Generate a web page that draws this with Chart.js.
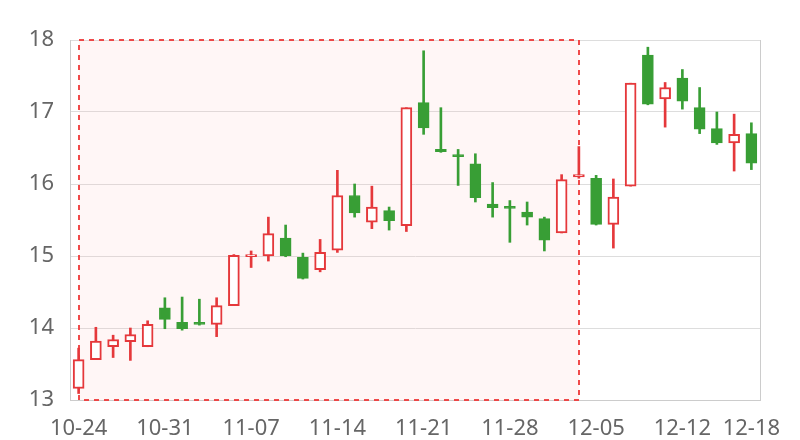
<!DOCTYPE html>
<html><head><meta charset="utf-8">
<script src="https://cdn.jsdelivr.net/npm/chart.js@4.4.0/dist/chart.umd.min.js"></script>
<style>html,body{margin:0;padding:0;background:#fff;}#wrap{width:800px;height:440px;}</style>
</head><body><div id="wrap"><canvas id="c" width="800" height="440"></canvas></div>
<script>
const dates = ['10-24','10-25','10-26','10-27','10-28','10-31','11-01','11-02','11-03','11-04',
  '11-07','11-08','11-09','11-10','11-11','11-14','11-15','11-16','11-17','11-18',
  '11-21','11-22','11-23','11-24','11-25','11-28','11-29','11-30','12-01','12-02',
  '12-05','12-06','12-07','12-08','12-09','12-12','12-13','12-14','12-15','12-18'];
const opens  = [13.16,13.56,13.74,13.81,13.74,14.28,14.08,14.08,14.05,14.31,
  14.99,15.00,15.25,14.98,14.81,15.08,15.84,15.47,15.63,15.42,
  17.13,16.48,16.41,16.28,15.72,15.69,15.61,15.52,15.32,16.10,
  16.08,15.44,15.97,17.79,17.18,17.47,17.06,16.77,16.57,16.70];
const closes = [13.56,13.82,13.84,13.91,14.05,14.12,13.99,14.05,14.31,15.01,
  15.02,15.31,15.00,14.69,15.05,15.84,15.60,15.68,15.49,17.06,
  16.78,16.45,16.38,15.81,15.67,15.66,15.54,15.22,16.06,16.13,
  15.44,15.82,17.40,17.11,17.34,17.15,16.76,16.57,16.69,16.29];
const lows   = [13.09,13.56,13.59,13.55,13.74,13.99,13.97,14.04,13.88,14.31,
  14.84,14.93,14.99,14.68,14.78,15.05,15.54,15.38,15.36,15.34,
  16.69,16.44,15.98,15.75,15.54,15.19,15.43,15.07,15.32,16.08,
  15.43,15.11,15.97,17.10,16.79,17.04,16.70,16.55,16.18,16.20];
const highs  = [13.72,14.01,13.90,14.00,14.10,14.42,14.43,14.40,14.42,15.02,
  15.07,15.54,15.43,15.04,15.23,16.19,16.00,15.97,15.68,17.06,
  17.85,17.06,16.48,16.42,16.02,15.77,15.75,15.54,16.13,16.52,
  16.12,16.07,17.40,17.90,17.41,17.59,17.34,17.00,16.97,16.85];
const yMin = 13, yMax = 18, yStep = 1;
const markStart = '10-24', markEnd = '12-02';

const UP = '#e5383b', DOWN = '#389e35';
const isUp = opens.map((o,i)=>closes[i] >= o);

const markAreaPlugin = {
  id: 'markArea',
  beforeDatasetsDraw(chart){
    const {ctx, chartArea, scales:{x, y}} = chart;
    const x0 = Math.round(x.getPixelForValue(dates.indexOf(markStart)));
    const x1 = Math.round(x.getPixelForValue(dates.indexOf(markEnd)));
    const yT = Math.round(y.getPixelForValue(yMax)), yB = Math.round(y.getPixelForValue(yMin));
    ctx.save();
    ctx.strokeStyle = '#cccccc'; ctx.lineWidth = 1;
    ctx.beginPath(); ctx.moveTo(Math.round(chartArea.right)+0.5, chartArea.top); ctx.lineTo(Math.round(chartArea.right)+0.5, chartArea.bottom); ctx.stroke();
    ctx.fillStyle = 'rgba(255,190,190,0.14)';
    ctx.fillRect(x0, yT, x1 - x0, yB - yT);
    ctx.setLineDash([5,5]);
    ctx.lineWidth = 2;
    ctx.strokeStyle = 'rgba(238,55,55,0.9)';
    ctx.strokeRect(x0, yT, x1 - x0, yB - yT);
    ctx.restore();
  }
};

const FONT = {family: "'Noto Sans', sans-serif", size: 22};

new Chart(document.getElementById('c'), {
  type: 'bar',
  data: {
    labels: dates,
    datasets: [
      {
        label: 'body',
        data: opens.map((o,i)=>[o, closes[i]]),
        backgroundColor: isUp.map(u => u ? '#ffffff' : DOWN),
        borderColor: isUp.map(u => u ? UP : DOWN),
        borderWidth: isUp.map(u => u ? 2 : 1),
        borderSkipped: false,
        barThickness: 11,
        grouped: false,
        order: 1
      },
      {
        label: 'wick',
        data: lows.map((l,i)=>[l, highs[i]]),
        backgroundColor: isUp.map(u => u ? UP : DOWN),
        borderWidth: 0,
        barThickness: 2,
        grouped: false,
        order: 2
      }
    ]
  },
  options: {
    responsive: false,
    animation: false,
    layout: {padding: {top: 40, right: 40, left: 0, bottom: 0}},
    plugins: {legend: {display: false}, tooltip: {enabled: false}},
    scales: {
      x: {
        offset: true,
        grid: {display: false, drawTicks: false},
        border: {display: true, color: '#cccccc'},
        ticks: {
          autoSkip: false, maxRotation: 0, minRotation: 0, padding: 16,
          color: '#666666', font: FONT,
          callback: (v, i) => (i % 5 === 0 || i === dates.length - 1) ? dates[i] : ''
        },
        afterFit: s => { s.height = 40; }
      },
      y: {
        min: yMin, max: yMax,
        grid: {color: '#dddddd', drawTicks: false},
        border: {display: true, color: '#cccccc'},
        ticks: {stepSize: yStep, padding: 16, color: '#666666', font: FONT},
        afterFit: s => { s.width = 70; }
      }
    }
  },
  plugins: [markAreaPlugin]
});
</script>
</body></html>
